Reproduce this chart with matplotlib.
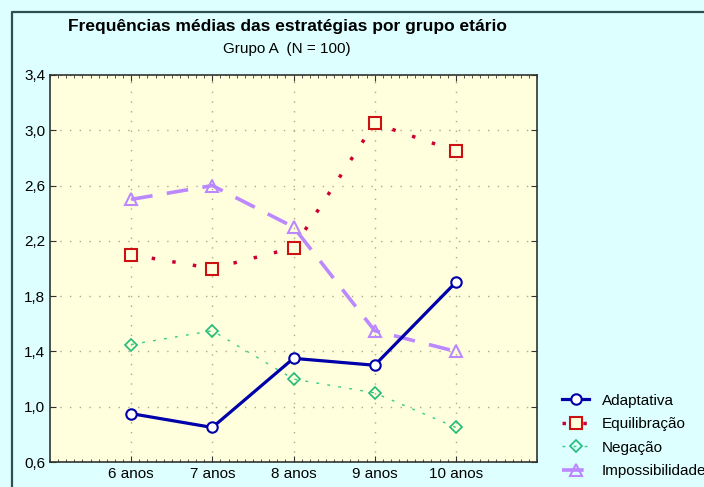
import numpy as np
import matplotlib.pyplot as plt
from matplotlib.lines import Line2D
from matplotlib.ticker import MultipleLocator, FixedLocator

plt.rcParams['font.family'] = ['Liberation Sans', 'DejaVu Sans']

grupos = ["6 anos", "7 anos", "8 anos", "9 anos", "10 anos"]
adaptativa = [0.95, 0.85, 1.35, 1.30, 1.90]
equilibracao = [2.10, 2.00, 2.15, 3.05, 2.85]
negacao = [1.45, 1.55, 1.20, 1.10, 0.85]
impossibilidade = [2.50, 2.60, 2.30, 1.55, 1.40]
yticks = [0.6, 1.0, 1.4, 1.8, 2.2, 2.6, 3.0, 3.4]

fig = plt.figure(figsize=(7.04, 4.87), dpi=100, facecolor="#ddffff")
ax = fig.add_axes([50/704, 1-462/487, 487/704, 387/487])
ax.set_facecolor("#ffffde")

# frame lines (left and top) around the figure
fx, fy = 12/704, 1-12/487
fig.lines.append(Line2D([fx, fx, 1.0], [0, fy, fy], transform=fig.transFigure,
                        color="#2f4f4f", lw=1.6))

x = np.arange(len(grupos))

ax.plot(x, adaptativa, '-o', color="#0000aa", lw=2.3, ms=7.5,
        mfc="white", mec="#0000aa", mew=1.5, label="Adaptativa", zorder=5)
ax.plot(x, equilibracao, ':s', color="#cc0033", lw=2.5, ms=8,
        mfc="#ffffde", mec="#cc1111", mew=1.5, label="Equilibração",
        dashes=(1, 5), zorder=4)
ax.plot(x, negacao, ':D', color="#33cc88", lw=1.0, ms=6.5,
        mfc="none", mec="#22bb77", mew=1.2, label="Negação",
        dashes=(2, 6), zorder=3)
ax.plot(x, impossibilidade, '--^', color="#bb88ff", lw=2.6, ms=8.5,
        mfc="none", mec="#bb88ff", mew=1.5, label="Impossibilidade",
        dashes=(6, 4), zorder=4)

ax.set_xlim(-1, 5)
ax.set_ylim(0.6, 3.4)
ax.xaxis.set_major_locator(FixedLocator(x))
ax.set_xticklabels(grupos)
ax.xaxis.set_minor_locator(MultipleLocator(0.1))
ax.yaxis.set_major_locator(FixedLocator(yticks))
ax.yaxis.set_major_formatter(lambda v, p: f"{v:.1f}".replace(".", ","))
ax.tick_params(which="both", direction="in", top=True, right=True, labelsize=11,
               color="#333333")
ax.tick_params(which="major", length=4)
ax.tick_params(which="minor", length=2)
ax.grid(True, which="major", color="#aaaa88", linestyle=(0, (1, 6)), lw=1.0)
for s in ax.spines.values():
    s.set_color("#333333")
    s.set_linewidth(1.2)

fig.text(287/704, 1-27/487, "Frequências médias das estratégias por grupo etário",
         ha="center", va="center", fontsize=12.5, fontweight="bold")
fig.text(287/704, 1-49/487, "Grupo A  (N = 100)", ha="center", va="center", fontsize=11)

ax.legend(loc="upper left", bbox_to_anchor=(548/704, 1-380/487),
          bbox_transform=fig.transFigure, frameon=False, fontsize=11,
          handlelength=1.8, handletextpad=0.8, labelspacing=0.62)

fig.savefig("out.png", dpi=100, facecolor=fig.get_facecolor())
